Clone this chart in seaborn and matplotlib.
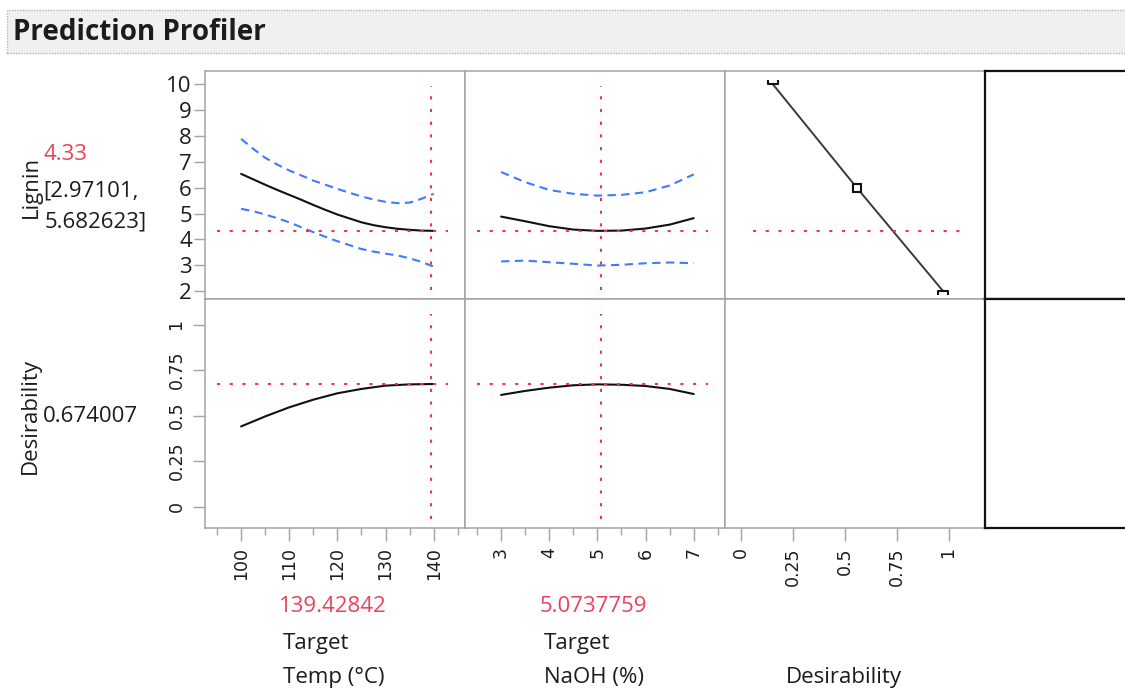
import numpy as np
import pandas as pd
import matplotlib
matplotlib.use("Agg")
import matplotlib.pyplot as plt
import seaborn as sns
from matplotlib.path import Path
from matplotlib.patches import Rectangle
from matplotlib.ticker import MultipleLocator, FixedLocator

# ---- profile data -------------------------------------------------------
temp_fine = [100, 102.5, 105, 107.5, 110, 112.5, 115, 117.5, 120,
             122.5, 125, 127.5, 130, 132.5, 135, 137.5, 140]
lignin_vs_temp = [6.53, 6.32, 6.11, 5.91, 5.72, 5.53, 5.33, 5.14, 4.96,
                  4.81, 4.66, 4.55, 4.47, 4.41, 4.37, 4.34, 4.33]
lignin_vs_temp_hi = [7.88, 7.50, 7.15, 6.89, 6.66, 6.47, 6.27, 6.11, 5.95,
                     5.80, 5.66, 5.54, 5.45, 5.40, 5.42, 5.57, 5.76]
lignin_vs_temp_lo = [5.18, 5.09, 4.96, 4.82, 4.66, 4.47, 4.28, 4.10, 3.93,
                     3.78, 3.63, 3.53, 3.45, 3.38, 3.27, 3.13, 2.95]

naoh = [3, 3.5, 4, 4.5, 5, 5.5, 6, 6.5, 7]
lignin_vs_naoh = [4.88, 4.70, 4.51, 4.38, 4.33, 4.34, 4.42, 4.57, 4.82]
lignin_vs_naoh_hi = [6.60, 6.21, 5.91, 5.76, 5.69, 5.72, 5.82, 6.08, 6.51]
lignin_vs_naoh_lo = [3.15, 3.18, 3.12, 3.06, 2.99, 3.02, 3.08, 3.11, 3.08]

temp = [100, 105, 110, 115, 120, 125, 130, 135, 140]
desir_vs_temp = [0.441, 0.496, 0.546, 0.588, 0.623, 0.647, 0.665, 0.672, 0.674]
desir_vs_naoh = [0.614, 0.636, 0.654, 0.667, 0.672, 0.670, 0.663, 0.647, 0.619]

# desirability function handles (desirability, lignin)
dfun_d = [0.154, 0.558, 0.974]
dfun_lignin = [10, 6, 2]

# current settings and predictions
temp_now = 139.42842
naoh_now = 5.0737759
lignin_now = 4.33
lignin_ci = (2.97101, 5.682623)
desir_now = 0.674007

lignin_ticks = [2, 3, 4, 5, 6, 7, 8, 9, 10]
temp_ticks = [100, 110, 120, 130, 140]
naoh_ticks = [3, 4, 5, 6, 7]
desir_ticks = [0, 0.25, 0.5, 0.75, 1]
desir_tick_labels = ["0", "0.25", "0.5", "0.75", "1"]

# ---- styling --------------------------------------------------------------
sns.set_theme(style="white")
plt.rcParams['font.family'] = ['Open Sans', 'DejaVu Sans']

W, H = 1125, 689
fig = plt.figure(figsize=(W / 100, H / 100), dpi=100)
fig.patch.set_facecolor("white")

RED = "#f0354d"
RED_TXT = "#e8435a"
BLUE = "#3d7bff"
GRID = "#a3a3a3"
INK = "#1c1c1c"
FS = 16
TFS = 12.5


def box(x0, y0, x1, y1):
    return [x0 / W, 1 - y1 / H, (x1 - x0) / W, (y1 - y0) / H]


def fx(x):
    return x / W


def fy(y):
    return 1 - y / H


def frame(ax, color=GRID, lw=1.1):
    ax.set_facecolor("white")
    for s in ax.spines.values():
        s.set_visible(True)
        s.set_color(color)
        s.set_linewidth(lw)
    ax.tick_params(which="both", color=GRID, width=1.0, direction="out",
                   labelcolor=INK, bottom=False, left=False, top=False, right=False)
    ax.set_xlabel("")
    ax.set_ylabel("")


cols = [(205, 465), (465, 725), (725, 985)]
rows = [(71, 299), (299, 528)]
axes = [[fig.add_axes(box(c[0], r[0], c[1], r[1])) for c in cols] for r in rows]
for row in axes:
    for ax in row:
        frame(ax)
        ax.set_xticks([])
        ax.set_yticks([])

# black-bordered cells on the far right
for r in rows:
    axb = fig.add_axes(box(985, r[0], 1140, r[1]))
    frame(axb, color="#111111", lw=1.6)
    axb.set_xticks([])
    axb.set_yticks([])

LIG_LIM = (1.7, 10.5)
DES_LIM = (-0.117, 1.141)
TEMP_LIM = (92.5, 146.5)
NAOH_LIM = (2.25, 7.65)
DX_LIM = (-0.075, 1.175)

dash = (0, (4, 2.6))
dot = (0, (1.5, 4.6))


def profile(ax, x, mid, lo=None, hi=None):
    if hi is not None:
        sns.lineplot(x=x, y=hi, ax=ax, color=BLUE, lw=1.5, linestyle=dash,
                     errorbar=None, legend=False)
        sns.lineplot(x=x, y=lo, ax=ax, color=BLUE, lw=1.5, linestyle=dash,
                     errorbar=None, legend=False)
    sns.lineplot(x=x, y=mid, ax=ax, color="#111111", lw=1.5,
                 errorbar=None, legend=False)


def crosshair(ax, xv, yv, hspan=(0.045, 0.933), vspan=(0.04, 0.934)):
    ax.axhline(yv, xmin=hspan[0], xmax=hspan[1], color=RED, lw=1.5, linestyle=dot)
    if xv is not None:
        ax.axvline(xv, ymin=vspan[0], ymax=vspan[1], color=RED, lw=1.5, linestyle=dot)


def bottom_axis(ax, ticks, labels, minor=None):
    ax.xaxis.set_major_locator(FixedLocator(ticks))
    if minor is not None:
        ax.xaxis.set_minor_locator(MultipleLocator(minor))
    ax.set_xticklabels(labels, fontsize=TFS, rotation=90, family="DejaVu Sans")
    ax.tick_params(axis="x", which="major", bottom=True, length=9, pad=5)
    ax.tick_params(axis="x", which="minor", bottom=True, length=5)


# top row: lignin
a = axes[0][0]
profile(a, temp_fine, lignin_vs_temp, lignin_vs_temp_lo, lignin_vs_temp_hi)
crosshair(a, temp_now, lignin_now)
a.set_xlim(*TEMP_LIM)
a.set_ylim(*LIG_LIM)
a.set_yticks(lignin_ticks)
a.set_yticklabels([str(t) for t in lignin_ticks], fontsize=FS)
a.tick_params(axis="y", left=True, length=8, pad=1.5)

a = axes[0][1]
profile(a, naoh, lignin_vs_naoh, lignin_vs_naoh_lo, lignin_vs_naoh_hi)
crosshair(a, naoh_now, lignin_now)
a.set_xlim(*NAOH_LIM)
a.set_ylim(*LIG_LIM)

a = axes[0][2]
sns.lineplot(x=dfun_d, y=dfun_lignin, ax=a, color="#3a3a3a", lw=1.4,
             errorbar=None, legend=False)
cup = Path([(-1, 0.9), (-1, 0), (1, 0), (1, 0.9)],
           [Path.MOVETO, Path.LINETO, Path.LINETO, Path.LINETO])
cap = Path([(-1, -0.9), (-1, 0), (1, 0), (1, -0.9)],
           [Path.MOVETO, Path.LINETO, Path.LINETO, Path.LINETO])
a.plot(dfun_d[0], dfun_lignin[0], marker=cup, ms=7, mfc="none", mec="#111111",
       mew=1.5, linestyle="none")
a.plot(dfun_d[2], dfun_lignin[2], marker=cap, ms=7, mfc="none", mec="#111111",
       mew=1.5, linestyle="none")
a.plot(dfun_d[1], dfun_lignin[1], marker="s", ms=5.5, mfc="white", mec="#111111",
       mew=1.5, linestyle="none")
crosshair(a, None, lignin_now, hspan=(0.108, 0.904))
a.set_xlim(*DX_LIM)
a.set_ylim(*LIG_LIM)

# bottom row: desirability
a = axes[1][0]
profile(a, temp, desir_vs_temp)
crosshair(a, temp_now, desir_now, vspan=(0.039, 0.934))
a.set_xlim(*TEMP_LIM)
a.set_ylim(*DES_LIM)
a.set_yticks(desir_ticks)
a.set_yticklabels(desir_tick_labels, fontsize=TFS, rotation=90, va="center",
                  family="DejaVu Sans")
a.tick_params(axis="y", left=True, length=9, pad=5)
bottom_axis(a, temp_ticks, [str(t) for t in temp_ticks], minor=5)

a = axes[1][1]
profile(a, naoh, desir_vs_naoh)
crosshair(a, naoh_now, desir_now, vspan=(0.039, 0.934))
a.set_xlim(*NAOH_LIM)
a.set_ylim(*DES_LIM)
bottom_axis(a, naoh_ticks, [str(t) for t in naoh_ticks], minor=0.5)

a = axes[1][2]
a.set_xlim(*DX_LIM)
a.set_ylim(*DES_LIM)
bottom_axis(a, desir_ticks, desir_tick_labels)

# ---- title bar ------------------------------------------------------------
fig.add_artist(Rectangle((fx(7), fy(53)), fx(1130 - 7), (53 - 10) / H,
                         transform=fig.transFigure, facecolor="#f0f0f0",
                         edgecolor="#b5b5b5", lw=1.0, linestyle=(0, (1, 1))))
fig.text(fx(13), fy(32), "Prediction Profiler", fontsize=20, fontweight="bold",
         color=INK, ha="left", va="center")

# ---- response labels -------------------------------------------------------
fig.text(fx(31), fy(187), "Lignin", rotation=90, fontsize=FS, color=INK,
         ha="center", va="center")
fig.text(fx(43), fy(154), f"{lignin_now:.2f}", fontsize=FS, color=RED_TXT,
         ha="left", va="center")
fig.text(fx(43), fy(191), f"[{lignin_ci[0]},", fontsize=FS, color=INK,
         ha="left", va="center")
fig.text(fx(45), fy(222), f"{lignin_ci[1]}]", fontsize=FS, color=INK,
         ha="left", va="center")
fig.text(fx(30), fy(416), "Desirability", rotation=90, fontsize=FS, color=INK,
         ha="center", va="center")
fig.text(fx(43), fy(416), f"{desir_now}", fontsize=FS, color=INK,
         ha="left", va="center")

# ---- factor labels ---------------------------------------------------------
fig.text(fx(333), fy(607), f"{temp_now}", fontsize=FS, color=RED_TXT,
         ha="center", va="center")
fig.text(fx(283), fy(643), "Target", fontsize=FS, color=INK, ha="left", va="center")
fig.text(fx(283), fy(678), "Temp (°C)", fontsize=FS, color=INK, ha="left", va="center")
fig.text(fx(593), fy(607), f"{naoh_now}", fontsize=FS, color=RED_TXT,
         ha="center", va="center")
fig.text(fx(544), fy(643), "Target", fontsize=FS, color=INK, ha="left", va="center")
fig.text(fx(544), fy(678), "NaOH (%)", fontsize=FS, color=INK, ha="left", va="center")
fig.text(fx(844), fy(678), "Desirability", fontsize=FS, color=INK,
         ha="center", va="center")

fig.savefig("out.png", dpi=100, facecolor="white")
